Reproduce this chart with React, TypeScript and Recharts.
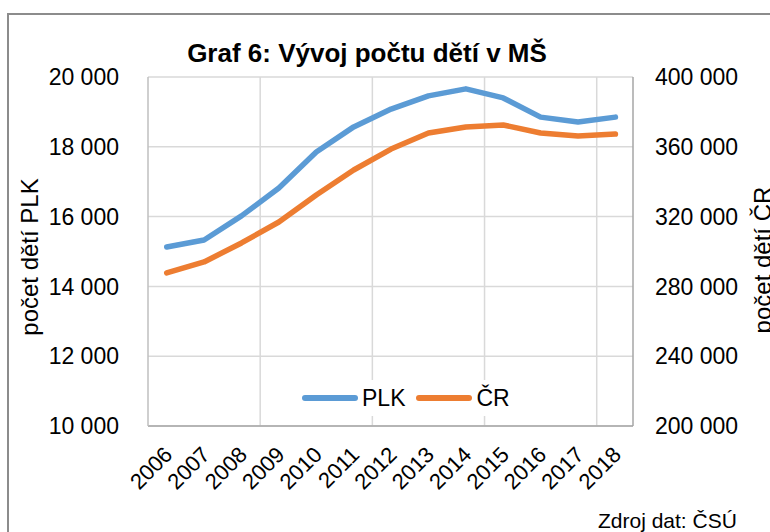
import React from 'react';
import { LineChart, Line, XAxis, YAxis, CartesianGrid, ReferenceLine, Legend } from 'recharts';

const years = [2006, 2007, 2008, 2009, 2010, 2011, 2012, 2013, 2014, 2015, 2016, 2017, 2018];
const plk = [15130, 15330, 16020, 16820, 17850, 18570, 19080, 19460, 19660, 19400, 18850, 18710, 18850];
const cr = [287700, 294000, 304900, 316900, 332400, 346700, 358700, 367900, 371300, 372500, 367900, 366200, 367300];
const leftTicks = [10000, 12000, 14000, 16000, 18000, 20000];
const rightTicks = [200000, 240000, 280000, 320000, 360000, 400000];
const gridX = [2008.5, 2011.5, 2014.5, 2017.5];
const xDomain = [2005.5, 2018.47];

const seriesNames = { plk: 'PLK', cr: 'ČR' };
const BLUE = '#5B9BD5';
const ORANGE = '#ED7D31';
const FONT = '"Liberation Sans", Arial, sans-serif';

const data = years.map((y, i) => ({ year: y, plk: plk[i], cr: cr[i] }));

const fmt = (n: number) => String(n).replace(/\B(?=(\d{3})+(?!\d))/g, ' ');

const XTick = (props: any) => {
  const { x, y, payload } = props;
  return (
    <g transform={`translate(${x - 4},${y})`}>
      <text textAnchor="end" transform="rotate(-45)" dy="0.71em" fontSize={22} fill="#000" fontFamily={FONT}>
        {payload.value}
      </text>
    </g>
  );
};

const LegendContent = (props: any) => {
  const { payload } = props;
  return (
    <div style={{ display: 'flex', alignItems: 'center', height: 36, background: '#fff', paddingLeft: 5, fontFamily: FONT }}>
      {(payload || []).map((p: any, i: number) => (
        <div key={i} style={{ display: 'flex', alignItems: 'center', marginRight: 11 }}>
          <svg width={56} height={10}>
            <line x1={3} y1={5} x2={53} y2={5} stroke={p.color} strokeWidth={6} strokeLinecap="round" />
          </svg>
          <span style={{ fontSize: 23, color: '#000', marginLeft: 4, lineHeight: '36px' }}>{p.value}</span>
        </div>
      ))}
    </div>
  );
};

export default function App() {
  return (
    <div style={{ position: 'absolute', left: 0, top: 0, width: 770, height: 532, overflow: 'hidden', background: '#fff' }}>
      <LineChart width={770} height={532} data={data} margin={{ top: 77, right: 0, bottom: 46, left: 0 }}>
        <CartesianGrid yAxisId="left" vertical={false} stroke="#D9D9D9" strokeWidth={1.5} />
        {gridX.map((g) => (
          <ReferenceLine key={g} x={g} yAxisId="left" stroke="#D9D9D9" strokeWidth={1.5} />
        ))}
        <XAxis
          dataKey="year"
          type="number"
          domain={xDomain}
          ticks={years}
          interval={0}
          allowDataOverflow
          height={60}
          tickLine={false}
          tickSize={0}
          tickMargin={19}
          axisLine={{ stroke: '#A6A6A6', strokeWidth: 1.5 }}
          tick={<XTick />}
        />
        <YAxis
          yAxisId="left"
          orientation="left"
          width={148}
          domain={[10000, 20000]}
          ticks={leftTicks}
          interval={0}
          tickFormatter={fmt}
          tickLine={false}
          tickSize={0}
          tickMargin={29}
          axisLine={{ stroke: '#BFBFBF', strokeWidth: 1.5 }}
          tick={{ fontSize: 23, fill: '#000', fontFamily: FONT }}
        />
        <YAxis
          yAxisId="right"
          orientation="right"
          width={137}
          domain={[200000, 400000]}
          ticks={rightTicks}
          interval={0}
          tickFormatter={fmt}
          tickLine={false}
          tickSize={0}
          tickMargin={22}
          axisLine={{ stroke: '#A6A6A6', strokeWidth: 1.5 }}
          tick={{ fontSize: 23, fill: '#000', fontFamily: FONT, textAnchor: 'start' }}
        />
        <Line
          yAxisId="left"
          type="linear"
          dataKey="plk"
          name={seriesNames.plk}
          stroke={BLUE}
          strokeWidth={5.5}
          strokeLinecap="round"
          strokeLinejoin="round"
          dot={false}
          activeDot={false}
          isAnimationActive={false}
        />
        <Line
          yAxisId="right"
          type="linear"
          dataKey="cr"
          name={seriesNames.cr}
          stroke={ORANGE}
          strokeWidth={5.5}
          strokeLinecap="round"
          strokeLinejoin="round"
          dot={false}
          activeDot={false}
          isAnimationActive={false}
        />
        <Legend
          layout="horizontal"
          verticalAlign="middle"
          align="center"
          content={<LegendContent />}
          wrapperStyle={{ left: 297, top: 380, width: 222, height: 36 }}
        />
      </LineChart>
      <svg width={770} height={532} style={{ position: 'absolute', left: 0, top: 0, pointerEvents: 'none' }}>
        <rect x={8} y={14} width={800} height={600} fill="none" stroke="#8C8C8C" strokeWidth={2} />
        <text x={367} y={62} textAnchor="middle" fontSize={26} fontWeight="bold" fontFamily={FONT} fill="#000">
          Graf 6: Vývoj počtu dětí v MŠ
        </text>
        <text x={38} y={257} transform="rotate(-90 38 257)" textAnchor="middle" fontSize={24} fontFamily={FONT} fill="#000">
          počet dětí PLK
        </text>
        <text x={771} y={260} transform="rotate(-90 771 260)" textAnchor="middle" fontSize={24} fontFamily={FONT} fill="#000">
          počet dětí ČR
        </text>
        <text x={598} y={528} fontSize={21} fontFamily={FONT} fill="#000">
          Zdroj dat: ČSÚ
        </text>
      </svg>
    </div>
  );
}
